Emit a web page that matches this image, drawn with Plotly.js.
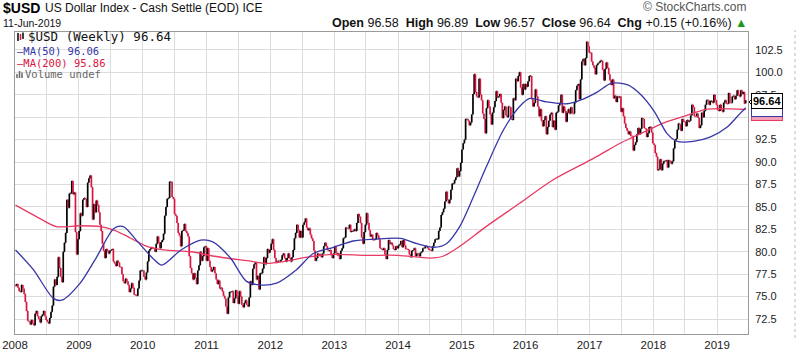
<!DOCTYPE html>
<html>
<head>
<meta charset="utf-8">
<script src="https://cdn.plot.ly/plotly-3.0.1.min.js"></script>
<style>
html,body{margin:0;padding:0;background:#fff;}
#chart{width:800px;height:363px;}
</style>
</head>
<body>
<div id="chart"></div>
<script>
// ---- Weekly closes (one array per year) ----
const firstWeek = '2008-01-04';
const firstOpen = 76.3;
const close2008 = [76.2,76.4,76.0,75.6, 75.5,76.3,75.9,75.3,74.4, 73.4,72.3,72.2,71.9, 72.4,72.0,71.8,73.1, 73.4,72.8,72.5,72.1,72.8, 73.0,73.4,72.8,72.4, 72.2,72.0,72.6,73.3, 74.0,76.1,76.9,76.3,77.2, 79.4,78.2,77.2,76.6, 80.0,81.0,82.1,85.8,84.9, 86.5,86.5,87.9,86.4, 86.6,82.2,79.7,81.4];
const close2009 = [82.3,84.3,84.0,85.8,86.0, 85.9,85.0,87.7,88.2, 88.5,87.2,83.6,85.3, 84.4,85.7,85.2,84.4, 83.0,82.3,80.9,80.1,79.3, 80.3,80.1,79.8,80.1, 80.2,80.3,78.9,78.7,78.4, 79.0,78.8,78.3,78.3, 77.5,76.7,76.5,77.0, 76.7,76.3,75.5,75.9,76.5, 76.0,75.2,75.2,75.1, 75.9,76.8,77.9,77.9];
const close2010 = [77.9,77.2,76.9,77.7,78.9, 80.1,80.3,80.5,80.4, 80.4,80.0,80.9,81.7, 81.0,80.4,81.1,81.3,82.0, 84.0,85.0,85.9,86.0, 87.8,87.8,86.1,85.9, 84.2,84.0,83.2,82.1,81.8, 80.6,82.3,82.4,83.1, 82.3,82.1,81.7,79.5, 78.2,77.6,76.9,77.6,77.1, 76.4,77.9,78.5,80.0, 79.0,79.5,80.5,80.6,79.0];
const close2011 = [80.4,79.0,78.3,77.8, 78.0,78.3,77.6,76.9, 76.4,76.8,75.9,76.0, 75.6,75.1,74.8,73.9,73.1, 74.9,75.5,75.5,75.6, 74.3,74.8,75.7,75.0, 74.2,75.6,75.0,74.1,73.8, 74.3,74.6,74.1,73.9, 74.9,76.7,76.3,78.1,78.6, 78.8,76.9,77.3,75.8, 77.6,77.6,78.1,79.4, 78.6,79.3,80.3,79.9,80.2];
const close2012 = [80.9,81.4,80.2,79.3, 78.8,78.9,79.0,78.9, 79.1,79.6,79.8,79.3,78.9, 79.3,79.8,79.3,78.9, 79.4,80.2,81.5,82.1, 83.0,82.4,81.6,82.3,81.6, 83.0,83.3,83.7,82.7, 82.4,82.6,81.9,81.5,81.2, 80.1,79.0,79.3,79.8, 79.6,79.7,79.4,79.8, 80.6,81.0,80.6,80.2,80.1, 80.2,79.6,79.3,79.8];
const close2013 = [80.6,79.9,79.6,79.8, 79.2,80.1,80.4,81.5, 81.6,82.7,82.6,82.6,83.0, 82.2,82.3,82.3,82.5, 82.3,83.2,84.2,83.9,83.2, 81.6,80.9,82.2,83.0, 84.3,83.2,82.4,81.7, 81.9,81.3,81.3,81.4,82.1, 81.8,81.4,80.4,80.3, 80.2,80.4,79.7,79.2, 80.2,81.3,80.9,81.0,80.7, 80.3,80.2,80.6,80.4];
const close2014 = [80.7,80.8,81.2,80.5,81.3, 80.7,80.3,80.3,80.2, 79.7,79.4,80.1,80.2, 80.4,79.5,79.8,79.8, 79.5,79.9,80.0,80.4,80.4, 80.6,80.6,80.4,80.2, 80.2,80.1,80.6,81.0, 81.4,81.4,81.4,82.3,82.7, 84.1,84.4,84.8,85.6, 86.7,85.8,85.4,85.8,86.9, 87.6,87.6,88.0,88.3, 89.3,88.4,89.0,89.9];
const close2015 = [91.4,92.1,92.5,94.8,94.8, 94.6,94.1,94.4,95.3, 97.6,99.8,97.8,97.3, 97.2,99.3,97.5,96.9, 95.4,94.8,93.2,96.0,96.9, 96.2,95.3,94.2,95.5, 96.1,96.8,97.9,97.2,97.3, 97.6,96.6,94.9,95.8, 96.2,95.2,95.0,96.2, 96.1,94.8,94.7,97.1,96.9, 99.3,99.0,99.6,100.0, 98.3,97.5,98.7,98.1];
const close2016 = [98.7,98.4,99.0,99.6,99.6, 97.0,96.2,96.6,98.1, 97.3,96.2,95.1,95.9, 94.6,94.0,94.7,95.1,93.1, 93.9,94.6,95.3,95.5, 93.9,94.6,93.6,95.5, 95.6,96.3,96.6,97.5,95.5, 96.2,95.7,94.5,95.5, 95.9,95.4,96.1,95.4,95.4, 96.6,98.0,98.5,98.7, 97.0,99.2,101.2,101.5, 100.8,101.6,103.4,102.9,102.2];
const close2017 = [102.2,101.2,100.8,100.5, 99.8,100.8,101.0,101.1, 101.3,101.3,100.3,99.1,100.4, 101.1,100.5,99.8,99.1, 98.6,99.2,97.1,97.4, 96.7,97.3,97.2,97.3,95.6, 96.0,95.1,94.3,93.8, 93.5,93.1,93.4,92.9, 92.9,91.3,91.9,92.2,93.1, 93.8,93.1,93.7,94.9, 94.8,93.8,93.7,92.8, 93.2,93.9,93.9,93.3,92.1];
const close2018 = [91.9,91.0,90.6,89.1, 89.2,90.3,89.1,89.8, 90.1,90.1,90.2,89.4,90.2, 90.1,89.8,90.1,91.5, 92.4,92.6,93.6,94.3, 94.2,93.5,94.8,94.5,94.5, 94.0,94.7,94.5,94.6, 95.2,96.4,96.1,95.1,95.1, 95.4,94.9,93.8,94.1, 95.5,95.0,95.7,96.4, 96.9,96.9,96.4,96.8,96.8, 96.6,97.5,96.9,96.4];
const close2019 = [95.8,95.7,96.4,95.8, 95.6,96.6,96.9,96.5, 96.5,97.7,96.6,96.6,97.3, 97.4,97.0,97.4,98.0, 97.5,97.3,98.0,97.6,97.8, 96.5,96.64];
// last bar values from the header
const lastOpen = 96.58, lastHigh = 96.89, lastLow = 96.57;

// ---- Moving averages ----
const ma50Dates = ['2008-01-04','2008-04-15','2008-08-08','2008-09-25','2009-01-08','2009-04-12','2009-07-20','2009-09-12','2009-11-25','2010-03-08','2010-04-20','2010-08-08','2010-11-28','2011-02-06','2011-05-18','2011-08-18','2011-11-03','2012-02-06','2012-05-30','2012-09-03','2012-12-28','2013-04-20','2013-08-15','2014-01-15','2014-04-20','2014-07-25','2014-10-05','2014-12-20','2015-03-08','2015-05-22','2015-08-28','2015-11-28','2016-01-26','2016-05-01','2016-08-25','2016-11-10','2017-02-14','2017-05-08','2017-08-08','2017-10-22','2018-01-08','2018-03-20','2018-05-18','2018-08-18','2018-11-25','2019-02-28','2019-05-12','2019-06-14'];
const ma50Values = [80.2,78.0,74.8,74.6,76.5,79.4,82.6,82.8,81.3,79.1,78.5,80.2,81.3,81.1,79.3,76.7,76.3,76.5,78.0,79.8,80.5,81.2,81.4,81.5,80.9,80.5,80.9,82.8,86.1,89.5,93.6,96.2,97.1,96.7,96.5,96.9,97.8,98.8,98.6,97.5,95.6,93.2,92.3,92.3,92.8,93.9,95.4,96.06];
const ma200Dates = ['2008-01-04','2008-04-25','2008-08-25','2009-01-02','2009-05-05','2009-07-20','2009-09-15','2010-01-25','2010-05-01','2010-10-05','2011-02-15','2011-08-20','2011-12-15','2012-03-15','2012-08-01','2013-01-01','2013-07-01','2014-01-01','2014-07-01','2014-09-15','2014-12-20','2015-05-20','2015-11-28','2016-06-05','2016-12-15','2017-03-01','2017-06-25','2017-09-10','2018-03-20','2018-07-12','2018-11-05','2019-06-14'];
const ma200Values = [85.2,84.0,82.8,82.9,82.8,82.4,81.9,80.6,80.2,80.0,79.5,79.0,78.7,78.9,79.4,79.7,79.6,79.6,79.3,79.5,80.6,82.8,85.4,88.0,90.0,90.8,92.1,92.8,94.5,95.2,95.9,95.86];

const yTicks = [72.5,75.0,77.5,80.0,82.5,85.0,87.5,90.0,92.5,95.0,97.5,100.0,102.5];
const yearTicks = ['2008','2009','2010','2011','2012','2013','2014','2015','2016','2017','2018','2019'];

// ---- build OHLC from closes ----
const closes = [].concat(close2008,close2009,close2010,close2011,close2012,close2013,close2014,close2015,close2016,close2017,close2018,close2019);
const dates = [];
const t0 = Date.parse(firstWeek + 'T00:00:00Z');
for (let i = 0; i < closes.length; i++) {
  dates.push(new Date(t0 + i * 7 * 86400000).toISOString().slice(0,10));
}
const opens = closes.map((c,i) => i === 0 ? firstOpen : closes[i-1]);
opens[opens.length-1] = lastOpen;
const highs = closes.map((c,i) => Math.max(c, opens[i]));
const lows = closes.map((c,i) => Math.min(c, opens[i]));
highs[highs.length-1] = lastHigh;
lows[lows.length-1] = lastLow;

const RED = '#d9143f', BLUE = '#3636a8', MARED = '#e83a62';

const traces = [
  {type:'ohlc', x:dates, open:opens, high:highs, low:lows, close:closes,
   increasing:{line:{color:'#000000', width:1.7}},
   decreasing:{line:{color:RED, width:1.7}},
   tickwidth:0.3, hoverinfo:'skip', showlegend:false},
  {type:'scatter', mode:'lines', x:ma200Dates, y:ma200Values, line:{color:MARED, width:1.3, shape:'spline', smoothing:0.8}, hoverinfo:'skip', showlegend:false},
  {type:'scatter', mode:'lines', x:ma50Dates, y:ma50Values, line:{color:BLUE, width:1.3, shape:'spline', smoothing:0.8}, hoverinfo:'skip', showlegend:false}
];

// pixel helpers for annotations (plot area: x 15..748, y 32..334)
const L=15, R=748, T=32, B=334;
const px = v => (v - L) / (R - L);
const py = v => (B - v) / (B - T);
const FONT = 'Liberation Sans, Arial, sans-serif';
const MONO = 'DejaVu Sans Mono, monospace';

const ann = [
  {xref:'paper', yref:'paper', x:px(1), y:py(8), xanchor:'left', yanchor:'middle', showarrow:false,
   text:'<b>$USD</b>', font:{family:FONT, size:14, color:'#000'}},
  {xref:'paper', yref:'paper', x:px(43), y:py(8.5), xanchor:'left', yanchor:'middle', showarrow:false,
   text:'US Dollar Index - Cash Settle (EOD) ICE', font:{family:FONT, size:12, color:'#111'}},
  {xref:'paper', yref:'paper', x:px(1), y:py(23), xanchor:'left', yanchor:'middle', showarrow:false,
   text:'11-Jun-2019', font:{family:FONT, size:10.5, color:'#111'}},
  {xref:'paper', yref:'paper', x:px(749), y:py(7), xanchor:'right', yanchor:'middle', showarrow:false,
   text:'© StockCharts.com', font:{family:FONT, size:12, color:'#555'}},
  {xref:'paper', yref:'paper', x:px(749), y:py(23), xanchor:'right', yanchor:'middle', showarrow:false,
   text:'<b>Open</b> 96.58  <b>High</b> 96.89  <b>Low</b> 96.57  <b>Close</b> 96.64  <b>Chg</b> +0.15 (+0.16%) <span style="color:#1a9a1a">▲</span>',
   font:{family:FONT, size:12.5, color:'#111'}},
  // legend inside plot
  {xref:'paper', yref:'paper', x:px(26), y:py(37), xanchor:'left', yanchor:'middle', showarrow:false,
   text:'$USD (Weekly) 96.64', font:{family:MONO, size:12.5, color:'#111'}},
  {xref:'paper', yref:'paper', x:px(15), y:py(51), xanchor:'left', yanchor:'middle', showarrow:false,
   text:'—MA(50) 96.06', font:{family:MONO, size:10.5, color:BLUE}},
  {xref:'paper', yref:'paper', x:px(15), y:py(63), xanchor:'left', yanchor:'middle', showarrow:false,
   text:'—MA(200) 95.86', font:{family:MONO, size:10.5, color:RED}},
  {xref:'paper', yref:'paper', x:px(23), y:py(74), xanchor:'left', yanchor:'middle', showarrow:false,
   text:'Volume undef', font:{family:MONO, size:10.5, color:'#666'}},
  // price markers on right
  {xref:'paper', yref:'y', x:1.004, y:95.86, xanchor:'left', yanchor:'middle', showarrow:false, yshift:-3,
   text:'<b>96.64</b>', font:{family:FONT, size:11, color:'rgba(0,0,0,0)'}, bgcolor:'#f4a0b4', bordercolor:MARED, borderwidth:1, borderpad:1},
  {xref:'paper', yref:'y', x:1.004, y:96.06, xanchor:'left', yanchor:'middle', showarrow:false, yshift:-1,
   text:'<b>96.64</b>', font:{family:FONT, size:11, color:'rgba(0,0,0,0)'}, bgcolor:'#ffffff', bordercolor:BLUE, borderwidth:1, borderpad:1},
  {xref:'paper', yref:'y', x:1.004, y:96.64, xanchor:'left', yanchor:'middle', showarrow:false, yshift:2,
   text:'<b>96.64</b>', font:{family:FONT, size:11, color:'#000'}, bgcolor:'#ffffff', bordercolor:'#000', borderwidth:1, borderpad:1}
];

const shapes = [
  // legend icon: bars
  {type:'line', xref:'paper', yref:'paper', x0:px(18), x1:px(18), y0:py(33), y1:py(41), line:{color:'#000', width:1.5}},
  {type:'line', xref:'paper', yref:'paper', x0:px(20.5), x1:px(20.5), y0:py(34), y1:py(40), line:{color:RED, width:1.5}},
  {type:'line', xref:'paper', yref:'paper', x0:px(23), x1:px(23), y0:py(32.5), y1:py(39), line:{color:'#000', width:1.5}},
  // volume icon
  {type:'line', xref:'paper', yref:'paper', x0:px(17), x1:px(17), y0:py(78), y1:py(74), line:{color:'#666', width:1.5}},
  {type:'line', xref:'paper', yref:'paper', x0:px(19.5), x1:px(19.5), y0:py(78), y1:py(71), line:{color:'#666', width:1.5}},
  {type:'line', xref:'paper', yref:'paper', x0:px(22), x1:px(22), y0:py(78), y1:py(72.5), line:{color:'#666', width:1.5}},
  // pointer of the price marker
  {type:'path', xref:'paper', yref:'paper', path:'M '+px(749)+' '+py(102)+' L '+px(753)+' '+py(98)+' L '+px(753)+' '+py(106)+' Z', fillcolor:'#fff', line:{color:'#000', width:1}},
  // dotted right frame
  {type:'line', xref:'paper', yref:'paper', x0:px(795), x1:px(795), y0:py(338), y1:py(30), line:{color:'#bbb', width:1, dash:'dot'}}
];

const layout = {
  width:800, height:363,
  margin:{l:L, r:800-R, t:T, b:363-B, pad:0},
  paper_bgcolor:'#fff', plot_bgcolor:'#fff',
  font:{family:FONT, size:11, color:'#333'},
  showlegend:false,
  xaxis:{type:'date', range:['2008-01-01','2019-06-27'],
    tickvals:yearTicks.map(y => y + '-01-01'), ticktext:yearTicks,
    showgrid:true, gridcolor:'#dcdcdc', gridwidth:1,
    minor:{tickvals:yearTicks.map(y => y + '-07-01'), showgrid:true, gridcolor:'#dcdcdc', ticks:''},
    showline:true, linecolor:'#9a9a9a', mirror:true, linewidth:1, ticks:'',
    tickfont:{family:FONT, size:11.5, color:'#222'},
    rangeslider:{visible:false}, fixedrange:true, zeroline:false},
  yaxis:{side:'right', range:[70.83,104.5], tickvals:yTicks, ticktext:yTicks.map(v => v.toFixed(1)),
    showgrid:true, gridcolor:'#dcdcdc', gridwidth:1,
    showline:true, linecolor:'#9a9a9a', mirror:true, linewidth:1, ticks:'',
    tickfont:{family:FONT, size:11, color:'#222'}, ticklabelstandoff:4,
    fixedrange:true, zeroline:false},
  annotations:ann,
  shapes:shapes
};

Plotly.newPlot('chart', traces, layout, {displayModeBar:false, staticPlot:true});
</script>
</body>
</html>
